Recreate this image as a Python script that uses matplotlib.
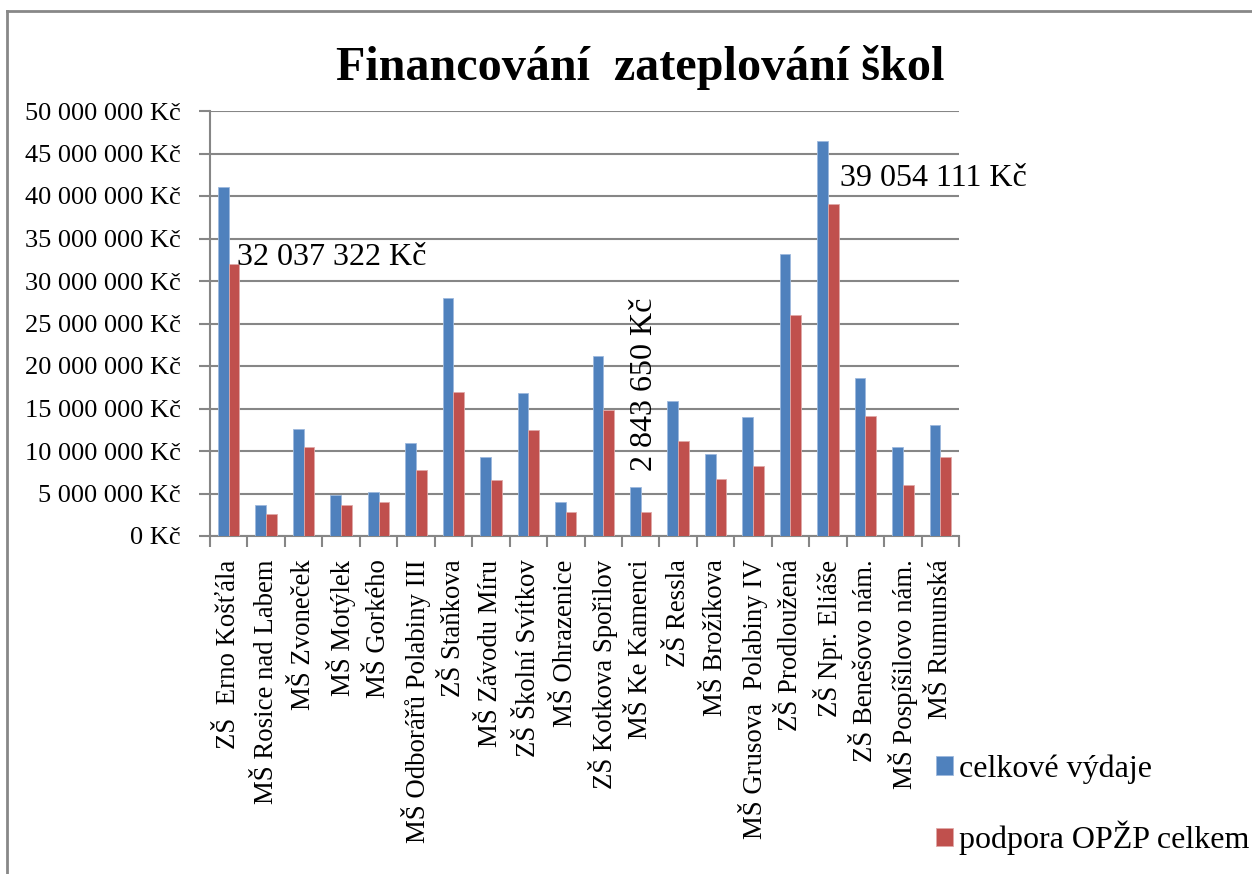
import matplotlib
matplotlib.use("Agg")
import matplotlib.pyplot as plt
import numpy as np
from matplotlib.ticker import FuncFormatter, FixedLocator
from matplotlib.lines import Line2D

plt.rcParams['font.family'] = ['Liberation Serif', 'DejaVu Serif']

categories = ["ZŠ  Erno Košťála", "MŠ Rosice nad Labem", "MŠ Zvoneček", "MŠ Motýlek",
              "MŠ Gorkého", "MŠ Odborářů Polabiny III", "ZŠ Staňkova", "MŠ Závodu Míru",
              "ZŠ Školní Svítkov", "MŠ Ohrazenice", "ZŠ Kotkova Spořilov", "MŠ Ke Kamenci",
              "ZŠ Ressla", "MŠ Brožíkova", "MŠ Grusova  Polabiny IV", "ZŠ Prodloužená",
              "ZŠ Npr. Eliáše", "ZŠ Benešovo nám.", "MŠ Pospíšilovo nám.", "MŠ Rumunská"]

celkove_vydaje = [41_040_000, 3_620_000, 12_620_000, 4_800_000, 5_150_000, 10_890_000,
                  27_990_000, 9_240_000, 16_820_000, 4_010_000, 21_150_000, 5_780_000,
                  15_880_000, 9_590_000, 13_950_000, 33_180_000, 46_420_000, 18_550_000,
                  10_500_000, 13_050_000]
podpora_opzp = [32_037_322, 2_630_000, 10_420_000, 3_690_000, 3_970_000, 7_740_000,
                16_940_000, 6_560_000, 12_460_000, 2_830_000, 14_820_000, 2_843_650,
                11_120_000, 6_680_000, 8_220_000, 26_020_000, 39_054_111, 14_110_000,
                6_050_000, 9_240_000]

series_names = ["celkové výdaje", "podpora OPŽP celkem"]
title = "Financování  zateplování škol"
y_max = 50_000_000
y_step = 5_000_000

blue = "#4F81BD"
red = "#C0504D"
grid_c = "#868686"

W, H = 1252, 874
fig = plt.figure(figsize=(W / 100, H / 100), dpi=100)
ax = fig.add_axes([210 / W, 1 - 536 / H, (959 - 210) / W, (536 - 111) / H])

n = len(categories)
x = np.arange(n)
bw = 1 / 3.5
ax.bar(x - bw / 2, celkove_vydaje, width=bw, color=blue, edgecolor="#9DB9DD", linewidth=0.6,
       label=series_names[0], zorder=3)
ax.bar(x + bw / 2, podpora_opzp, width=bw, color=red, edgecolor="#E0A9A8", linewidth=0.6,
       label=series_names[1], zorder=3)

ax.set_xlim(-0.5, n - 0.5)
ax.set_ylim(0, y_max)

def fmt(v, pos=None):
    s = f"{int(round(v)):,}".replace(",", " ")
    return f"{s} Kč"

ax.yaxis.set_major_locator(FixedLocator(np.arange(0, y_max + 1, y_step)))
ax.yaxis.set_major_formatter(FuncFormatter(fmt))
ax.tick_params(axis='y', which='major', length=8, width=1.5, color=grid_c, pad=13,
               labelsize=19, direction='out')
ax.yaxis.grid(True, color=grid_c, linewidth=1.5, zorder=0)
ax.set_axisbelow(True)

ax.set_xticks(x)
ax.set_xticklabels(categories, rotation=90, fontsize=19.3)
ax.set_xticks(np.arange(-0.5, n, 1.0), minor=True)
ax.tick_params(axis='x', which='major', length=0, pad=17)
ax.tick_params(axis='x', which='minor', length=8, width=1.5, color=grid_c, direction='out')

for s in ['top', 'right']:
    ax.spines[s].set_visible(False)
for s in ['left', 'bottom']:
    ax.spines[s].set_color(grid_c)
    ax.spines[s].set_linewidth(1.5)

# data labels
ax.annotate(fmt(podpora_opzp[0]), xy=(0 + bw / 2, podpora_opzp[0]), xytext=(3, 6),
            textcoords='offset pixels', ha='left', va='center', fontsize=23, zorder=5)
ax.annotate(fmt(podpora_opzp[11]), xy=(11 + bw / 2, podpora_opzp[11]), xytext=(-2, 128),
            textcoords='offset pixels', ha='center', va='center', rotation=90, fontsize=23, zorder=5)
ax.annotate(fmt(podpora_opzp[16]), xy=(16 + bw / 2, podpora_opzp[16]), xytext=(7, 26),
            textcoords='offset pixels', ha='left', va='center', fontsize=23, zorder=5)

fig.text(640 / W, 1 - 80 / H, title, ha='center', va='baseline', fontsize=34.7, fontweight='bold')

leg = fig.legend(loc='center left', bbox_to_anchor=(936 / W, 1 - 805 / H), frameon=False,
                 fontsize=23, handlelength=0.53, handleheight=0.53, handletextpad=0.2,
                 labelspacing=1.15, borderpad=0, borderaxespad=0)

# chart border
fig.add_artist(Line2D([7 / W, 7 / W], [0, 1 - 11 / H], color="#888888", linewidth=2))
fig.add_artist(Line2D([7 / W, 1], [1 - 11 / H, 1 - 11 / H], color="#888888", linewidth=2))

fig.savefig("out.png", dpi=100)
